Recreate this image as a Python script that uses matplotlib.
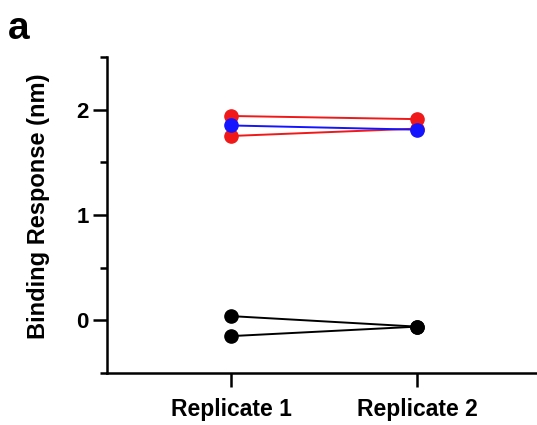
import matplotlib.pyplot as plt
from matplotlib.ticker import MultipleLocator

plt.rcParams['font.family'] = ['Liberation Sans', 'DejaVu Sans']
plt.rcParams['font.weight'] = 'bold'

replicates = ["Replicate 1", "Replicate 2"]

red_a = [1.94, 1.91]
red_b = [1.75, 1.82]
blue = [1.85, 1.81]
black_a = [0.04, -0.06]
black_b = [-0.15, -0.06]

series = [
  (black_a, "black"),
  (black_b, "black"),
  (red_a, "#f01818"),
  (red_b, "#f01818"),
  (blue, "#1414ff"),
]

fig = plt.figure(figsize=(5.37, 4.25), dpi=100)
ax = fig.add_axes([0.199, 0.1224, 0.801, 0.7435])

x = list(range(len(replicates)))
for vals, col in series:
  ax.plot(x, vals, color=col, lw=1.4, marker="o", ms=9.5, mec=col, mfc=col, clip_on=False)

ax.set_xlim(-0.667, 1.645)
ax.set_ylim(-0.5, 2.5)
ax.set_xticks(x)
ax.set_xticklabels(replicates, fontsize=16.5, fontweight="bold")
ax.yaxis.set_major_locator(MultipleLocator(1))
ax.yaxis.set_minor_locator(MultipleLocator(0.5))
ax.tick_params(axis="y", which="major", length=10, width=1.8, labelsize=16, pad=3)
ax.tick_params(axis="y", which="minor", length=5, width=1.8)
ax.tick_params(axis="x", which="major", length=10, width=1.8, pad=8)
ax.set_ylabel("Binding Response (nm)", fontsize=17, fontweight="bold")
ax.yaxis.set_label_coords(-0.133, 0.528)

for s in ["top", "right"]:
  ax.spines[s].set_visible(False)
for s in ["left", "bottom"]:
  ax.spines[s].set_linewidth(1.8)

fig.text(0.015, 0.975, "a", fontsize=28, fontweight="bold", va="top", ha="left")

plt.savefig("out.png", dpi=100)
